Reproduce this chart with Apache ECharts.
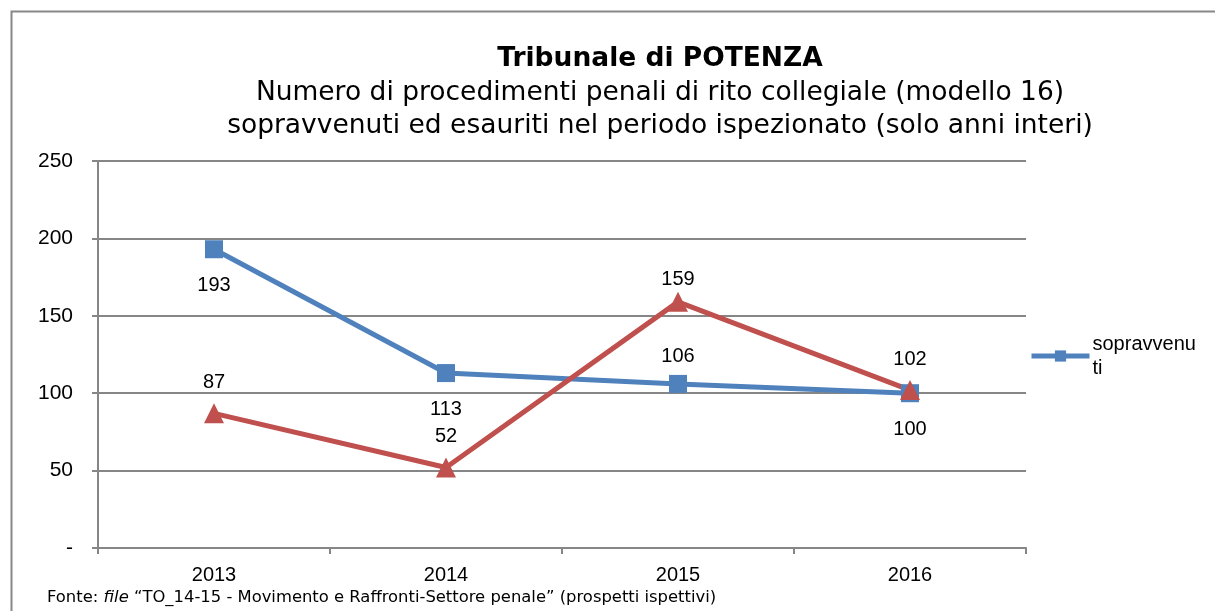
<!DOCTYPE html>
<html>
<head>
<meta charset="utf-8">
<script src="https://cdn.jsdelivr.net/npm/echarts@6/dist/echarts.min.js"></script>
<style>
  html, body { margin: 0; padding: 0; background: #fff; }
  #chart { width: 1215px; height: 611px; }
</style>
</head>
<body>
<div id="chart"></div>
<script>
const years = ['2013', '2014', '2015', '2016'];
const sopravvenuti = [193, 113, 106, 100];
const esauriti = [87, 52, 159, 102];
// label side for each point
const sopravPos = ['bottom', 'bottom', 'top', 'bottom'];
const esauritiPos = ['top', 'top', 'top', 'top'];

const chart = echarts.init(document.getElementById('chart'));

const lab = { show: true, color: '#000', fontSize: 20, fontFamily: 'Liberation Sans, Arial' };

chart.setOption({
  animation: false,
  textStyle: { fontFamily: 'Liberation Sans, Arial' },
  title: [
    {
      text: 'Tribunale di POTENZA',
      left: 655, top: 41, textAlign: 'center',
      textStyle: { fontFamily: 'DejaVu Sans', fontWeight: 'bold', fontSize: 26.5, color: '#000' }
    },
    {
      text: 'Numero di procedimenti penali di rito collegiale (modello 16)\nsopravvenuti ed esauriti nel periodo ispezionato (solo anni interi)',
      left: 655, top: 72, textAlign: 'center',
      textStyle: { fontFamily: 'DejaVu Sans', fontWeight: 'normal', fontSize: 26.5, lineHeight: 33, color: '#000' }
    }
  ],
  legend: {
    data: ['sopravvenuti'],
    left: 1024, top: 327,
    itemWidth: 58, itemHeight: 14, itemGap: 4,
    lineStyle: { width: 5 },
    formatter: () => 'sopravvenu\nti',
    textStyle: { fontSize: 20, color: '#000', lineHeight: 24, fontFamily: 'Liberation Sans, Arial', padding: [0, 0, 0, -2] }
  },
  grid: { left: 98, right: 189, top: 161, bottom: 63 },
  xAxis: {
    type: 'category',
    data: years,
    boundaryGap: true,
    axisLine: { lineStyle: { color: '#868686', width: 2 } },
    axisTick: { show: true, length: 6, lineStyle: { color: '#868686', width: 2 } },
    axisLabel: { color: '#000', fontSize: 20, margin: 17 }
  },
  yAxis: {
    type: 'value',
    min: 0, max: 250, interval: 50,
    axisLine: { show: true, lineStyle: { color: '#868686', width: 2 } },
    axisTick: { show: true, length: 6, lineStyle: { color: '#868686', width: 2 } },
    splitLine: { lineStyle: { color: '#868686', width: 2 } },
    axisLabel: {
      color: '#000', fontSize: 21, margin: 25,
      formatter: v => (v === 0 ? '-' : String(v))
    }
  },
  series: [
    {
      name: 'sopravvenuti',
      type: 'line',
      data: sopravvenuti.map((v, i) => ({
        value: v,
        label: Object.assign({}, lab, { position: sopravPos[i], distance: sopravPos[i] === 'top' ? 8 : 17 })
      })),
      symbol: 'rect', symbolSize: 18,
      lineStyle: { color: '#4F81BD', width: 5 },
      itemStyle: { color: '#4F81BD' }
    },
    {
      name: 'esauriti',
      type: 'line',
      data: esauriti.map((v, i) => ({
        value: v,
        label: Object.assign({}, lab, { position: esauritiPos[i], distance: i === 2 ? 2 : 11 })
      })),
      symbol: 'triangle', symbolSize: 20,
      lineStyle: { color: '#C0504D', width: 5 },
      itemStyle: { color: '#C0504D' }
    }
  ],
  graphic: [
    {
      type: 'rect', left: 9, top: 9, z: -1,
      shape: { width: 1215, height: 620 },
      style: { fill: 'none', stroke: '#888', lineWidth: 2 }
    },
    {
      type: 'text', left: 47, top: 590,
      style: {
        text: '{n|Fonte: }{i|file}{n| \u201cTO_14-15 - Movimento e Raffronti-Settore penale\u201d (prospetti ispettivi)}',
        rich: {
          n: { fontFamily: 'DejaVu Sans', fontSize: 16.4, fill: '#000' },
          i: { fontFamily: 'DejaVu Sans', fontStyle: 'italic', fontSize: 16.4, fill: '#000' }
        }
      }
    }
  ]
});
</script>
</body>
</html>
